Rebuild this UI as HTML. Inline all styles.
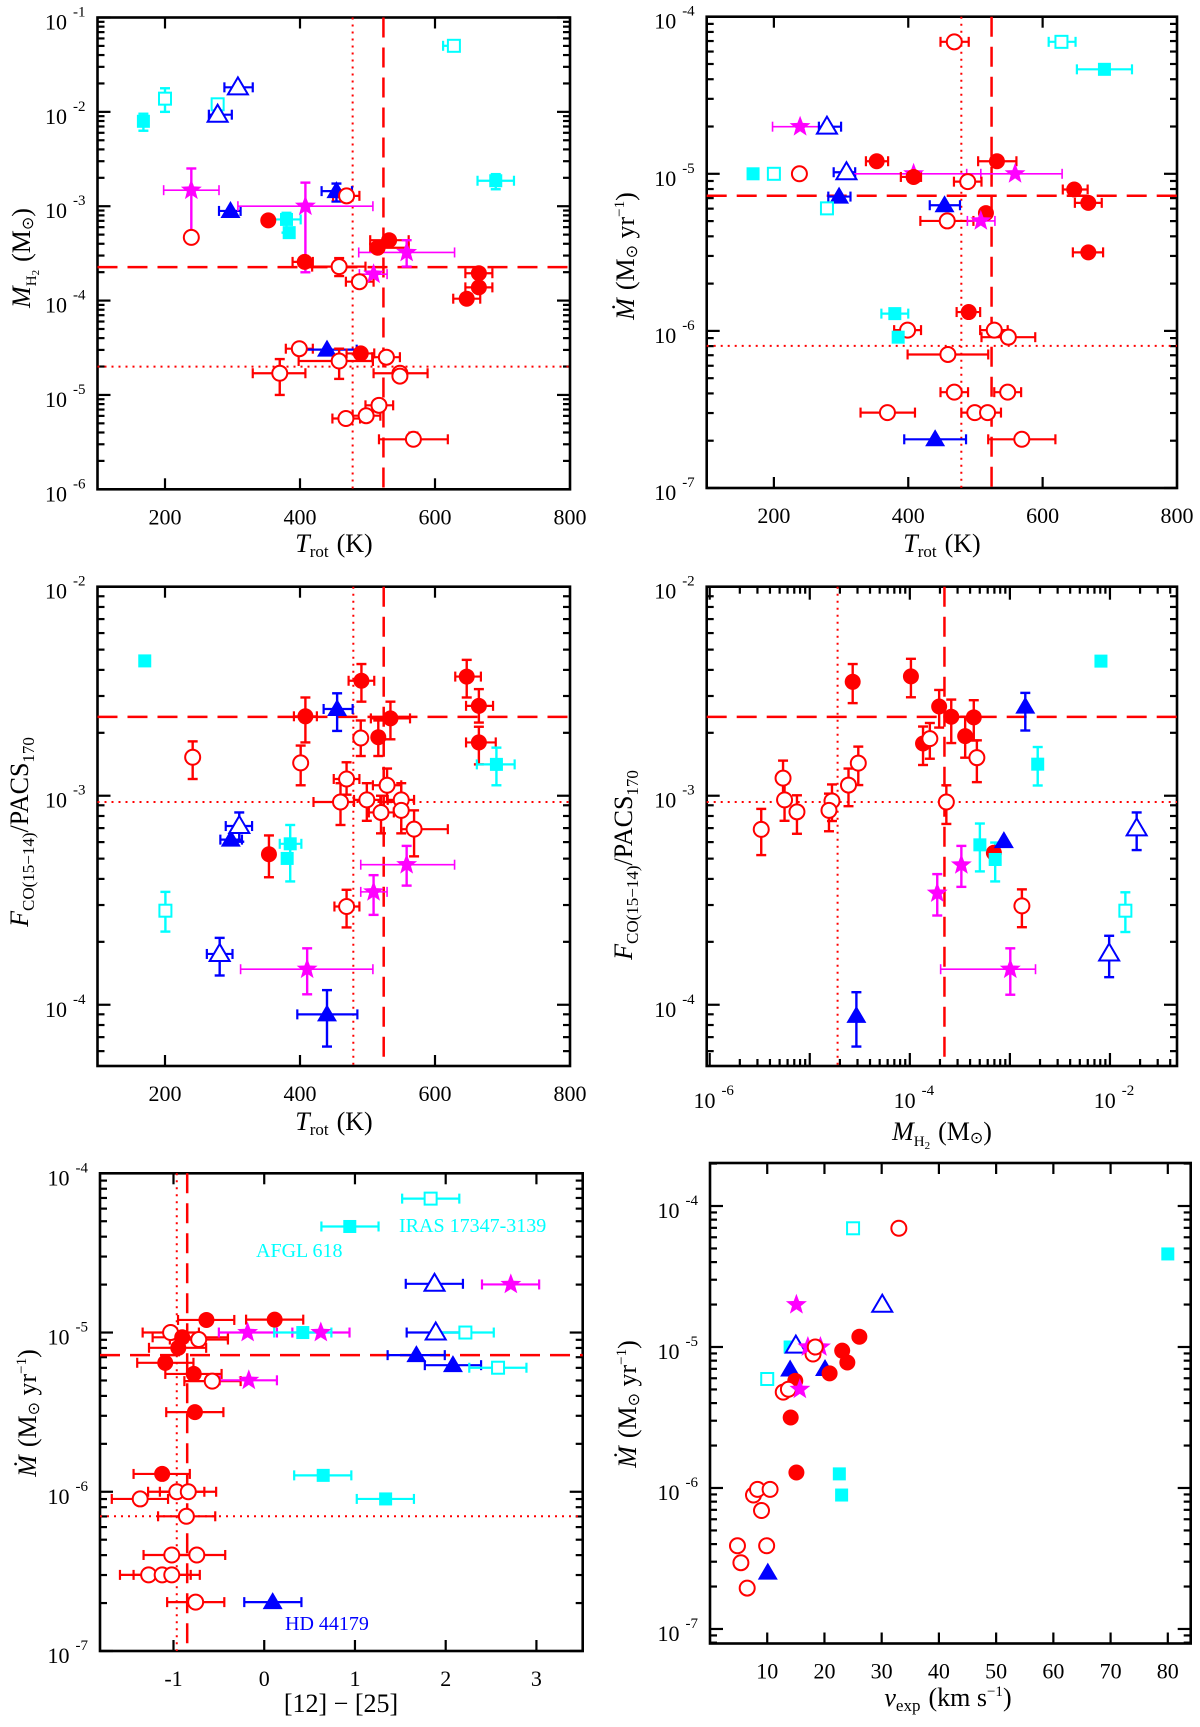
<!DOCTYPE html>
<html><head><meta charset="utf-8"><style>
html,body{margin:0;padding:0;background:#fff;}
svg{display:block;font-family:"Liberation Serif",serif;}
</style></head><body>
<svg id="fig" width="1200" height="1727" viewBox="0 0 1200 1727">
<g id="titles" fill="#000" font-size="26">
<text transform="translate(30,258) rotate(-90)" text-anchor="middle"><tspan font-style="italic">M</tspan><tspan font-size="15" dy="6">H</tspan><tspan font-size="11" dy="3">2</tspan><tspan dy="-9" dx="8">(M</tspan><tspan font-size="16" dy="3">⊙</tspan><tspan dy="-3">)</tspan></text>
<text x="334" y="552" text-anchor="middle"><tspan font-style="italic">T</tspan><tspan font-size="17" dy="5">rot</tspan><tspan dy="-5" dx="8">(K)</tspan></text>
<text transform="translate(634,256) rotate(-90)" text-anchor="middle"><tspan font-style="italic">Ṁ</tspan><tspan dx="8">(M</tspan><tspan font-size="16" dy="3">⊙</tspan><tspan dy="-3"> yr</tspan><tspan font-size="15" dy="-10">−1</tspan><tspan dy="10">)</tspan></text>
<text x="942" y="552" text-anchor="middle"><tspan font-style="italic">T</tspan><tspan font-size="17" dy="5">rot</tspan><tspan dy="-5" dx="8">(K)</tspan></text>
<text transform="translate(28,832) rotate(-90)" text-anchor="middle"><tspan font-style="italic">F</tspan><tspan font-size="17" dy="6">CO(15−14)</tspan><tspan dy="-6">/PACS</tspan><tspan font-size="17" dy="6">170</tspan></text>
<text x="334" y="1130" text-anchor="middle"><tspan font-style="italic">T</tspan><tspan font-size="17" dy="5">rot</tspan><tspan dy="-5" dx="8">(K)</tspan></text>
<text transform="translate(632,865) rotate(-90)" text-anchor="middle"><tspan font-style="italic">F</tspan><tspan font-size="17" dy="6">CO(15−14)</tspan><tspan dy="-6">/PACS</tspan><tspan font-size="17" dy="6">170</tspan></text>
<text x="942" y="1140" text-anchor="middle"><tspan font-style="italic">M</tspan><tspan font-size="15" dy="6">H</tspan><tspan font-size="11" dy="3">2</tspan><tspan dy="-9" dx="8">(M</tspan><tspan font-size="16" dy="3">⊙</tspan><tspan dy="-3">)</tspan></text>
<text transform="translate(36,1413) rotate(-90)" text-anchor="middle"><tspan font-style="italic">Ṁ</tspan><tspan dx="8">(M</tspan><tspan font-size="16" dy="3">⊙</tspan><tspan dy="-3"> yr</tspan><tspan font-size="15" dy="-10">−1</tspan><tspan dy="10">)</tspan></text>
<text x="341" y="1712" text-anchor="middle">[12] − [25]</text>
<text transform="translate(636,1404) rotate(-90)" text-anchor="middle"><tspan font-style="italic">Ṁ</tspan><tspan dx="8">(M</tspan><tspan font-size="16" dy="3">⊙</tspan><tspan dy="-3"> yr</tspan><tspan font-size="15" dy="-10">−1</tspan><tspan dy="10">)</tspan></text>
<text x="948" y="1706" text-anchor="middle"><tspan font-style="italic">v</tspan><tspan font-size="17" dy="5">exp</tspan><tspan dy="-5" dx="8">(km s</tspan><tspan font-size="15" dy="-10">−1</tspan><tspan dy="10">)</tspan></text>
</g>
<g font-size="20">
<text x="399" y="1232" fill="#00ffff">IRAS 17347-3139</text>
<text x="256" y="1257" fill="#00ffff">AFGL 618</text>
<text x="285" y="1630" fill="#0000ff">HD 44179</text>
</g>
</svg>
<script>
// ---- Panel 1: T_rot vs log M_H2 ----
const p1Type=['fs','os','os','ot','ot','os','fs','st','oc','ft','fc','fs','fs','st','fc','ft','oc','oc','oc','st','fc','fc','st','fc','fc','fc','oc','ft','fc','oc','oc','oc','oc','oc','oc','oc','oc','oc'];
const p1T=[168,200,278,278,308,628,690,239,239,297,353,380,384,408,407,454,469,458,488,509,515,532,558,665,665,647,399,440,490,458,528,370,548,548,517,468,498,568];
const p1LogM=[-2.10,-1.86,-1.92,-2.03,-1.74,-1.30,-2.73,-2.83,-3.33,-3.05,-3.15,-3.14,-3.28,-3.00,-3.59,-2.84,-2.89,-3.64,-3.80,-3.72,-3.44,-3.36,-3.49,-3.71,-3.86,-3.98,-4.51,-4.52,-4.56,-4.64,-4.60,-4.77,-4.77,-4.80,-5.11,-5.25,-5.22,-5.47];
const p1TLo=[null,null,null,265,288,612,663,198,null,280,null,360,null,308,389,432,449,418,468,488,504,504,487,645,645,627,379,403,469,398,507,330,509,null,497,448,478,517];
const p1THi=[null,null,null,299,330,635,717,280,null,312,null,401,null,508,419,477,488,497,509,529,561,561,629,685,685,667,419,484,510,508,548,408,589,null,538,489,519,619];
const p1YLo=[-2.20,-2.00,-1.96,null,null,null,-2.82,-3.32,null,null,null,-3.28,null,-3.70,null,-2.95,null,-3.74,null,null,null,null,-3.64,null,null,null,null,null,null,-4.83,null,-5.00,null,null,null,null,null,-5.53];
const p1YHi=[-2.02,-1.75,-1.88,null,null,null,-2.66,-2.60,null,null,null,-3.07,null,-2.75,null,-2.76,null,-3.55,null,null,null,null,-3.36,null,null,null,null,null,null,-4.51,null,-4.62,null,null,null,null,null,-5.40];
const p1XTicks=[200,400,600,800];
const p1YDecades=[-6,-5,-4,-3,-2,-1];
// ---- Panel 2: T_rot vs log Mdot ----
const p2Type=['oc','os','fs','st','ot','fc','fc','fs','os','oc','ot','st','st','fc','oc','fc','ft','fc','ft','os','fc','oc','st','fc','fs','fc','oc','oc','fs','oc','oc','oc','oc','oc','oc','oc','ft','oc'];
const p2T=[468.5,628,692,239,279,353,532,169,200,238,308,408,559,408,488.5,647,297,668,454,279,515.6,458,508,668,380,490,399,528,385,549,459,468.5,548,369,499,518,440,569];
const p2LogMdot=[-4.16,-4.16,-4.335,-4.70,-4.70,-4.92,-4.92,-5.0,-5.0,-5.0,-4.99,-5.0,-5.0,-5.02,-5.05,-5.10,-5.145,-5.185,-5.20,-5.22,-5.25,-5.30,-5.30,-5.50,-5.89,-5.88,-5.995,-5.995,-6.04,-6.04,-6.15,-6.39,-6.39,-6.52,-6.52,-6.52,-6.69,-6.69];
const p2TLo=[448,609,651,198,267,337,504,null,null,231,289,308,487,389,468,630,281,648,432,null,null,418,488,645,360,472,379,507,null,509,399,448,528,329,479,498,394,519];
const p2THi=[490,649,733,280,300,370,561,null,null,245,321,508,629,419,509,667,314,688,477,null,null,497,529,690,400,507,419,548,null,589,519,489,568,410,519,538,486,619];
const p2XTicks=[200,400,600,800];
const p2YDecades=[-7,-6,-5,-4];
// ---- Panel 3: T_rot vs log F ratio ----
const p3Type=['fs','fc','fc','ft','fc','fc','fc','fc','fc','fc','oc','oc','oc','oc','oc','oc','oc','oc','oc','oc','oc','oc','fs','fs','fs','ft','ot','os','ot','st','st','st','ft'];
const p3T=[170,354,408,455,491,516,534,647,665,665,241,401,490,469,529,460,499,520,550,550,569,469,691,385.5,381,297.5,310,200.6,281,410.6,509,558,440];
const p3LogF=[-2.355,-3.28,-2.62,-2.585,-2.45,-2.72,-2.63,-2.43,-2.57,-2.745,-2.816,-2.843,-2.724,-2.92,-2.95,-3.03,-3.02,-3.08,-3.02,-3.07,-3.16,-3.53,-2.85,-3.23,-3.30,-3.21,-3.145,-3.55,-3.757,-3.83,-3.46,-3.33,-4.046];
const p3TLo=[null,null,391,435,472,null,505,630,646,646,null,null,null,450,508,420,480,502,530,null,550,451,662,370,null,282,290,null,262,312,490,490,396];
const p3THi=[null,null,425,478,510,null,563,668,686,690,null,null,null,488,550,480,519,539,569,null,619,488,718,402,null,314,329,null,300,508,529,629,485];
const p3YLo=[null,-3.39,-2.745,-2.69,-2.55,-2.81,-2.73,-2.53,-2.65,-2.85,-2.92,-2.95,-2.81,-2.995,-3.03,-3.14,-3.12,-3.18,-3.18,null,-3.29,-3.63,-2.95,-3.41,null,null,-3.22,-3.65,-3.86,-3.95,-3.57,-3.43,-4.20];
const p3YHi=[null,-3.19,-2.53,-2.51,-2.37,-2.64,-2.55,-2.35,-2.49,-2.67,-2.74,-2.76,-2.64,-2.84,-2.87,-2.94,-2.94,-3.00,-2.94,null,-3.07,-3.45,-2.77,-3.14,null,null,-3.08,-3.46,-3.68,-3.73,-3.38,-3.24,-3.93];
const p3XTicks=[200,400,600,800];
const p3YDecades=[-4,-3,-2];
// ---- Panel 4: log M_H2 vs log F ratio ----
const p4Type=['fc','fc','fc','fc','fc','fc','fc','oc','oc','oc','oc','oc','oc','oc','oc','oc','oc','oc','oc','fc','ft','ft','ft','ot','ot','fs','fs','fs','fs','os','st','st','st'];
const p4LogM=[-4.571,-3.989,-3.707,-3.586,-3.361,-3.868,-3.447,-3.80,-3.33,-4.515,-4.613,-5.267,-5.252,-5.128,-4.778,-4.808,-5.485,-3.635,-2.88,-3.16,-4.534,-2.846,-3.06,-1.733,-2.008,-2.09,-2.722,-3.30,-3.147,-1.846,-3.726,-3.485,-2.996];
const p4LogF=[-2.455,-2.429,-2.573,-2.622,-2.625,-2.75,-2.715,-2.727,-2.818,-2.844,-2.949,-2.916,-3.02,-3.077,-3.025,-3.07,-3.161,-3.03,-3.527,-3.273,-4.053,-2.574,-3.217,-3.156,-3.755,-2.356,-2.849,-3.235,-3.305,-3.55,-3.466,-3.331,-3.83];
const p4YLo=[-2.557,-2.529,-2.674,-2.748,-2.736,-2.853,-2.818,-2.823,-2.935,-2.949,-3.05,-3.019,-3.12,-3.182,-3.121,-3.17,-3.284,-3.135,-3.629,null,-4.20,-2.688,null,-3.26,-3.868,null,-2.951,-3.362,-3.41,-3.652,-3.573,-3.436,-3.952];
const p4YHi=[-2.37,-2.345,-2.494,-2.54,-2.543,-2.669,-2.622,-2.652,-2.735,-2.765,-2.87,-2.832,-2.94,-2.998,-2.946,-2.99,-3.063,-2.95,-3.448,null,-3.94,-2.508,null,-3.08,-3.67,null,-2.767,-3.133,-3.224,-3.462,-3.375,-3.24,-3.73];
const p4XLo=[null,null,null,null,null,null,null,null,null,null,null,null,null,null,null,null,null,null,null,null,null,null,null,null,null,null,null,null,null,null,null,null,-3.692];
const p4XHi=[null,null,null,null,null,null,null,null,null,null,null,null,null,null,null,null,null,null,null,null,null,null,null,null,null,null,null,null,null,null,null,null,-2.744];
const p4XDecades=[-6,-5,-4,-3,-2];
const p4YDecades=[-4,-3,-2];
// ---- Panel 5: [12]-[25] vs log Mdot ----
const p5Type=['os','fs','ot','st','fc','fc','oc','fc','oc','fc','fc','fc','oc','fc','st','st','fs','ot','os','ft','ft','os','st','fc','oc','oc','oc','oc','fs','fs','oc','oc','oc','oc','oc','oc','ft'];
const p5Color=[1.834,0.943,1.877,2.718,-0.637,0.115,-1.032,-0.904,-0.722,-0.947,-1.091,-0.777,-0.573,-0.764,-0.183,0.624,0.425,1.89,2.217,1.677,2.08,2.577,-0.170,-1.125,-0.964,-0.837,-1.367,-0.858,0.65,1.338,-1.019,-0.743,-1.274,-1.125,-1.019,-0.756,0.093];
const p5LogMdot=[-4.159,-4.334,-4.694,-4.698,-4.921,-4.919,-5.0,-5.03,-5.044,-5.096,-5.19,-5.26,-5.305,-5.50,-5.0,-5.0,-5.0,-5.0,-5.0,-5.142,-5.205,-5.221,-5.30,-5.888,-6.0,-6.0,-6.045,-6.154,-5.897,-6.045,-6.397,-6.397,-6.522,-6.522,-6.522,-6.693,-6.693];
const p5XLo=[1.52,0.63,1.56,2.40,-0.95,-0.20,-1.34,-1.23,-1.04,-1.27,-1.40,-1.09,-0.88,-1.08,-0.50,0.31,0.11,1.57,1.90,1.36,1.77,2.26,-0.49,-1.44,-1.28,-1.15,-1.68,-1.17,0.33,1.02,-1.33,-1.06,-1.59,-1.44,-1.33,-1.07,-0.22];
const p5XHi=[2.15,1.26,2.19,3.03,-0.33,0.43,-0.72,-0.40,-0.40,-0.64,-0.78,-0.47,-0.26,-0.45,0.14,0.94,0.74,2.21,2.53,1.99,2.39,2.89,0.14,-0.82,-0.66,-0.53,-1.06,-0.54,0.96,1.65,-0.71,-0.43,-0.96,-0.81,-0.71,-0.44,0.41];
const p5XTicks=[-1,0,1,2,3];
const p5YDecades=[-7,-6,-5,-4];
// ---- Panel 6: v_exp vs log Mdot ----
const p6Type=['os','oc','fs','st','ot','fc','fs','ot','oc','st','st','oc','fc','fc','ft','fc','ft','os','fc','oc','oc','st','fc','fs','fs','fc','oc','oc','oc','oc','oc','oc','oc','ft','oc'];
const p6Vexp=[25.0,33.0,80,15.1,30.1,26.1,14.0,15.0,18.0,17.1,19.3,18.4,23.1,24.0,20.1,20.9,14.0,10.0,14.9,12.8,13.7,15.7,14.1,22.6,23.0,15.1,7.6,8.3,10.5,9.0,4.8,9.9,5.4,10.1,6.5];
const p6LogMdot=[-4.158,-4.158,-4.34,-4.70,-4.70,-4.927,-5.0,-4.99,-5.05,-5.0,-5.0,-5.0,-5.026,-5.11,-5.156,-5.187,-5.16,-5.227,-5.24,-5.32,-5.30,-5.30,-5.50,-5.90,-6.05,-5.89,-6.05,-6.01,-6.01,-6.16,-6.41,-6.41,-6.53,-6.60,-6.71];
const p6XTicks=[10,20,30,40,50,60,70,80];
const p6YDecades=[-7,-6,-5,-4];
// reference lines
const p1VLines=[478,523.6], p1HLines=[-3.645,-4.70];
const p2VLines=[479,524], p2HLines=[-5.14,-6.095];
const p3VLines=[479,524], p3HLines=[-2.623,-3.03];
const p4VLines=[-4.722,-3.654], p4HLines=[-2.623,-3.03];
const p5VLines=[-0.964,-0.849], p5HLines=[-5.142,-6.154];

const NS='http://www.w3.org/2000/svg';
const svg=document.getElementById('fig');
const COL={fc:'#ff0000',oc:'#ff0000',fs:'#00ffff',os:'#00ffff',ft:'#0000ff',ot:'#0000ff',st:'#ff00ff'};
function mk(tag,attrs,parent){const e=document.createElementNS(NS,tag);for(const k in attrs)e.setAttribute(k,attrs[k]);(parent||svg).appendChild(e);return e;}

function makeAxes(p){
  p.sx=v=>p.l+(v-p.x0)/(p.x1-p.x0)*(p.r-p.l);
  p.sy=v=>p.b-(v-p.y0)/(p.y1-p.y0)*(p.b-p.t);
  const g=mk('g',{});
  
  
  for(let d=Math.floor(p.y0);d<=Math.ceil(p.y1);d++){
    for(let m=1;m<10;m++){
      const v=d+Math.log10(m); if(v<p.y0-1e-6||v>p.y1+1e-6)continue;
      const y=p.sy(v), L=m===1?13:7;
      mk('line',{x1:p.l,x2:p.l+L,y1:y,y2:y,stroke:'#000','stroke-width':2.2},g);
      mk('line',{x1:p.r,x2:p.r-L,y1:y,y2:y,stroke:'#000','stroke-width':2.2},g);
    }
  }
  p.yDec.forEach(d=>{
    const y=p.sy(d);
    const t=mk('text',{x:p.l-12,y:y+12,'text-anchor':'end','font-size':22,fill:'#000'},g);
    
    
    t.appendChild(document.createTextNode('10'));
    const s=mk('tspan',{'font-size':15,dx:6,dy:-13},t); s.textContent=String(d);
  });
  if(p.xlog){
    for(let d=Math.floor(p.x0);d<=Math.ceil(p.x1);d++){
      for(let m=1;m<10;m++){
        const v=d+Math.log10(m); if(v<p.x0-1e-6||v>p.x1+1e-6)continue;
        const x=p.sx(v), L=m===1?13:7;
        mk('line',{x1:x,x2:x,y1:p.b,y2:p.b-L,stroke:'#000','stroke-width':2.2},g);
        mk('line',{x1:x,x2:x,y1:p.t,y2:p.t+L,stroke:'#000','stroke-width':2.2},g);
      }
    }
    p.xDec.filter(d=>d%2===0).forEach(d=>{
      const x=p.sx(d);
      const t=mk('text',{x:x+4,y:p.b+42,'text-anchor':'middle','font-size':22,fill:'#000'},g);
      
      
      t.appendChild(document.createTextNode('10'));
      const s=mk('tspan',{'font-size':15,dx:6,dy:-13},t); s.textContent=String(d);
    });
  } else {
    p.xTicks.forEach(v=>{
      const x=p.sx(v);
      if(v>p.x0+1e-6&&v<p.x1-1e-6){
        mk('line',{x1:x,x2:x,y1:p.b,y2:p.b-11,stroke:'#000','stroke-width':2.2},g);
        mk('line',{x1:x,x2:x,y1:p.t,y2:p.t+11,stroke:'#000','stroke-width':2.2},g);
      }
      const t=mk('text',{x:x,y:p.b+35,'text-anchor':'middle','font-size':22,fill:'#000'},g);
      
      
      t.textContent=(v<0?'-':'')+Math.abs(v);
    });
  }
  const box=mk('rect',{x:p.l,y:p.t,width:p.r-p.l,height:p.b-p.t,fill:'none',stroke:'#000','stroke-width':2.6});
  
  
}

function refLines(p,vs,hs){
  const g=mk('g',{stroke:'#ff0000',fill:'none'});
  
  
  vs.forEach((v,i)=>{const x=p.sx(v);mk('line',{x1:x,x2:x,y1:p.t,y2:p.b,'stroke-width':i?2.5:2,'stroke-dasharray':i?'20 10':'2 5'},g);});
  hs.forEach((v,i)=>{const y=p.sy(v);mk('line',{x1:p.l,x2:p.r,y1:y,y2:y,'stroke-width':i?2:2.5,'stroke-dasharray':i?'2 5':'20 10'},g);});
}

function star(cx,cy,R){let pts=[];for(let i=0;i<10;i++){const a=-Math.PI/2+i*Math.PI/5,r=i%2?R*0.42:R;pts.push((cx+r*Math.cos(a)).toFixed(1)+','+(cy+r*Math.sin(a)).toFixed(1));}return pts.join(' ');}

function drawPoints(p,types,xs,ys,xlo,xhi,ylo,yhi){
  const ge=mk('g',{});  
  const gm=mk('g',{});  
  types.forEach((tp,i)=>{
    const c=COL[tp], x=p.sx(xs[i]), y=p.sy(ys[i]);
    const w=(tp==='st'&&p.name!=='p5')?1.6:2.2;
    if(xlo&&xlo[i]!=null){const a=p.sx(xlo[i]),b=p.sx(xhi[i]);
      mk('line',{x1:a,x2:b,y1:y,y2:y,stroke:c,'stroke-width':w},ge);
      mk('line',{x1:a,x2:a,y1:y-5,y2:y+5,stroke:c,'stroke-width':w},ge);
      mk('line',{x1:b,x2:b,y1:y-5,y2:y+5,stroke:c,'stroke-width':w},ge);}
    if(ylo&&ylo[i]!=null){const a=p.sy(ylo[i]),b=p.sy(yhi[i]);
      mk('line',{x1:x,x2:x,y1:a,y2:b,stroke:c,'stroke-width':2.4},ge);
      mk('line',{x1:x-5,x2:x+5,y1:a,y2:a,stroke:c,'stroke-width':2.4},ge);
      mk('line',{x1:x-5,x2:x+5,y1:b,y2:b,stroke:c,'stroke-width':2.4},ge);}
    let m;
    if(tp==='fc')m=mk('circle',{cx:x,cy:y,r:8,fill:c},gm);
    else if(tp==='oc')m=mk('circle',{cx:x,cy:y,r:7.5,fill:'#fff',stroke:c,'stroke-width':2},gm);
    else if(tp==='fs')m=mk('rect',{x:x-6.5,y:y-6.5,width:13,height:13,fill:c},gm);
    else if(tp==='os')m=mk('rect',{x:x-6,y:y-6,width:12,height:12,fill:'#fff',stroke:c,'stroke-width':2},gm);
    else if(tp==='ft')m=mk('polygon',{points:`${x},${y-10} ${x-10},${y+7} ${x+10},${y+7}`,fill:c},gm);
    else if(tp==='ot')m=mk('polygon',{points:`${x},${y-10} ${x-10},${y+7} ${x+10},${y+7}`,fill:'#fff',stroke:c,'stroke-width':2},gm);
    else m=mk('polygon',{points:star(x,y,11),fill:c},gm);
    
    
  });
}

const P1={name:'p1',l:97.5,r:570,t:17.5,b:489.3,x0:100,x1:800,y0:-6,y1:-1,xTicks:p1XTicks,yDec:p1YDecades};
const P2={name:'p2',l:706.7,r:1177,t:16.7,b:488,x0:100,x1:800,y0:-7,y1:-4,xTicks:p2XTicks,yDec:p2YDecades};
const P3={name:'p3',l:97.5,r:570,t:586.7,b:1066,x0:100,x1:800,y0:-4.293,y1:-2,xTicks:p3XTicks,yDec:p3YDecades};
const P4={name:'p4',l:706.7,r:1177,t:586.7,b:1066,x0:-6.03,x1:-1.33,xlog:true,y0:-4.293,y1:-2,xDec:p4XDecades,yDec:p4YDecades};
const P5={name:'p5',l:100,r:582.7,t:1173.3,b:1651,x0:-1.81,x1:3.51,y0:-7,y1:-4,xTicks:p5XTicks,yDec:p5YDecades};
const P6={name:'p6',l:710,r:1190.7,t:1163,b:1643.5,x0:0,x1:84,y0:-7.103,y1:-3.695,xTicks:p6XTicks,yDec:p6YDecades};

[P1,P2,P3,P4,P5,P6].forEach(makeAxes);
refLines(P1,p1VLines,p1HLines);
refLines(P2,p2VLines,p2HLines);
refLines(P3,p3VLines,p3HLines);
refLines(P4,p4VLines,p4HLines);
refLines(P5,p5VLines,p5HLines);
drawPoints(P1,p1Type,p1T,p1LogM,p1TLo,p1THi,p1YLo,p1YHi);
drawPoints(P2,p2Type,p2T,p2LogMdot,p2TLo,p2THi,null,null);
drawPoints(P3,p3Type,p3T,p3LogF,p3TLo,p3THi,p3YLo,p3YHi);
drawPoints(P4,p4Type,p4LogM,p4LogF,p4XLo,p4XHi,p4YLo,p4YHi);
drawPoints(P5,p5Type,p5Color,p5LogMdot,p5XLo,p5XHi,null,null);
drawPoints(P6,p6Type,p6Vexp,p6LogMdot,null,null,null,null);
svg.appendChild(document.getElementById('titles'));
</script>
</body></html>
